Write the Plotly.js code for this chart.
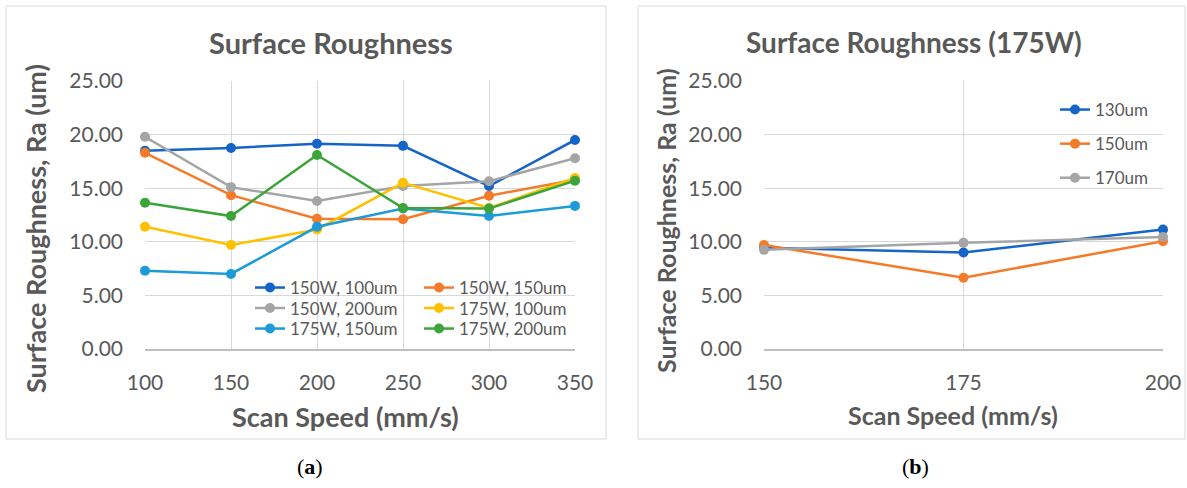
<!DOCTYPE html>
<html>
<head>
<meta charset="utf-8">
<script src="https://cdn.plot.ly/plotly-3.0.1.min.js"></script>
<style>html,body{margin:0;padding:0;background:#fff;}#chart{width:1187px;height:488px;}</style>
</head>
<body>
<div id="chart"></div>
<script>
// ---- data: panel (a) ----
const speedsA = [100, 150, 200, 250, 300, 350];
const namesA = ['150W, 100um', '150W, 150um', '150W, 200um', '175W, 100um', '175W, 150um', '175W, 200um'];
const ra150W100 = [18.5, 18.75, 19.15, 18.95, 15.2, 19.5];
const ra150W150 = [18.3, 14.35, 12.15, 12.1, 14.3, 15.8];
const ra150W200 = [19.8, 15.1, 13.8, 15.2, 15.65, 17.8];
const ra175W100 = [11.4, 9.7, 11.15, 15.5, 13.15, 15.95];
const ra175W150 = [7.3, 7.0, 11.4, 13.1, 12.4, 13.35];
const ra175W200 = [13.65, 12.4, 18.1, 13.15, 13.1, 15.7];
// ---- data: panel (b) ----
const speedsB = [150, 175, 200];
const namesB = ['130um', '150um', '170um'];
const ra130 = [9.45, 9.0, 11.15];
const ra150 = [9.7, 6.65, 10.05];
const ra170 = [9.25, 9.9, 10.45];

const W = 1187, H = 488;
const px = v => v / W;
const py = v => 1 - v / H;
const FONT = 'Lato, "Open Sans", sans-serif';
const GREY = '#595959';
const colorsA = ['#1565C8', '#F47B2A', '#A5A5A5', '#FFC000', '#1C9BD8', '#3CA53A'];
const colorsB = ['#1565C8', '#F47B2A', '#A5A5A5'];

const seriesA = [ra150W100, ra150W150, ra150W200, ra175W100, ra175W150, ra175W200];
const legendOfA = ['legend', 'legend', 'legend2', 'legend2', 'legend3', 'legend3'];
const traces = [];
seriesA.forEach((ys, i) => {
  traces.push({
    type: 'scatter', mode: 'lines+markers', x: speedsA, y: ys, name: namesA[i],
    xaxis: 'x', yaxis: 'y', legend: legendOfA[i], cliponaxis: false,
    line: {color: colorsA[i], width: 2.5}, marker: {color: colorsA[i], size: 10}
  });
});
[ra130, ra150, ra170].forEach((ys, i) => {
  traces.push({
    type: 'scatter', mode: 'lines+markers', x: speedsB, y: ys, name: namesB[i],
    xaxis: 'x2', yaxis: 'y2', legend: 'legend4', legendgroup: 'g' + i, cliponaxis: false,
    line: {color: colorsB[i], width: 2.5}, marker: {color: colorsB[i], size: 10}
  });
});

const axX = {
  showgrid: true, gridcolor: '#D9D9D9', gridwidth: 1, zeroline: false,
  showline: true, linecolor: '#BFBFBF', linewidth: 1.5, ticks: '', ticklabelstandoff: 14,
  tickfont: {family: FONT, size: 21, color: GREY}, fixedrange: true
};
const axY = {
  showgrid: true, gridcolor: '#D9D9D9', gridwidth: 1, zeroline: false, showline: false,
  range: [0, 25], dtick: 5, tick0: 0, tickformat: '.2f', ticks: '', ticklabelstandoff: 21,
  tickfont: {family: FONT, size: 21, color: GREY}, fixedrange: true
};
const legFont = {family: FONT, size: 17, color: GREY};
const legBase = {orientation: 'h', xanchor: 'left', yanchor: 'middle', bgcolor: 'rgba(0,0,0,0)',
  font: legFont, entrywidth: 124, entrywidthmode: 'pixels', itemclick: false, itemdoubleclick: false};

const layout = {
  width: W, height: H, margin: {l: 0, r: 0, t: 0, b: 0},
  paper_bgcolor: '#fff', plot_bgcolor: 'rgba(0,0,0,0)', showlegend: true,
  xaxis: Object.assign({}, axX, {domain: [px(145), px(575)], range: [100, 350], dtick: 50, tick0: 100, anchor: 'y'}),
  yaxis: Object.assign({}, axY, {domain: [py(349), py(81)], anchor: 'x'}),
  xaxis2: Object.assign({}, axX, {domain: [px(764), px(1163)], range: [150, 200], dtick: 25, tick0: 150, anchor: 'y2'}),
  yaxis2: Object.assign({}, axY, {domain: [py(349), py(81)], anchor: 'x2'}),
  legend: Object.assign({}, legBase, {x: px(250), y: py(288)}),
  legend2: Object.assign({}, legBase, {x: px(250), y: py(308.5)}),
  legend3: Object.assign({}, legBase, {x: px(250), y: py(329)}),
  legend4: {orientation: 'v', xanchor: 'left', yanchor: 'top', x: px(1055), y: py(92), bgcolor: 'rgba(0,0,0,0)',
    font: legFont, tracegroupgap: 9, itemclick: false, itemdoubleclick: false},
  shapes: [
    {type: 'rect', xref: 'paper', yref: 'paper', x0: px(6), x1: px(606), y0: py(439), y1: py(6),
     line: {color: '#D9D9D9', width: 1}, layer: 'below'},
    {type: 'rect', xref: 'paper', yref: 'paper', x0: px(638), x1: px(1185), y0: py(439), y1: py(6),
     line: {color: '#D9D9D9', width: 1}, layer: 'below'},
    {type: 'rect', xref: 'paper', yref: 'paper', x0: px(240), x1: px(573), y0: py(347), y1: py(270),
     line: {width: 0}, fillcolor: '#ffffff', layer: 'between'}
  ],
  annotations: [
    {text: '<b>Surface Roughness</b>', x: px(331), y: py(42), xref: 'paper', yref: 'paper', showarrow: false,
     xanchor: 'center', yanchor: 'middle', font: {family: FONT, size: 29, color: GREY}},
    {text: '<b>Surface Roughness (175W)</b>', x: px(914), y: py(42), xref: 'paper', yref: 'paper', showarrow: false,
     xanchor: 'center', yanchor: 'middle', font: {family: FONT, size: 28, color: GREY}},
    {text: '<b>Surface Roughness, Ra (um)</b>', x: px(36), y: py(229), xref: 'paper', yref: 'paper', showarrow: false,
     textangle: -90, xanchor: 'center', yanchor: 'middle', font: {family: FONT, size: 27, color: GREY}},
    {text: '<b>Surface Roughness, Ra (um)</b>', x: px(666), y: py(221), xref: 'paper', yref: 'paper', showarrow: false,
     textangle: -90, xanchor: 'center', yanchor: 'middle', font: {family: FONT, size: 25, color: GREY}},
    {text: '<b>Scan Speed (mm/s)</b>', x: px(345), y: py(416), xref: 'paper', yref: 'paper', showarrow: false,
     xanchor: 'center', yanchor: 'middle', font: {family: FONT, size: 27, color: GREY}},
    {text: '<b>Scan Speed (mm/s)</b>', x: px(953), y: py(415), xref: 'paper', yref: 'paper', showarrow: false,
     xanchor: 'center', yanchor: 'middle', font: {family: FONT, size: 25, color: GREY}},
    {text: '(<b>a</b>)', x: px(310), y: py(466), xref: 'paper', yref: 'paper', showarrow: false,
     xanchor: 'center', yanchor: 'middle', font: {family: '"Liberation Serif", serif', size: 22, color: '#000'}},
    {text: '(<b>b</b>)', x: px(915), y: py(466), xref: 'paper', yref: 'paper', showarrow: false,
     xanchor: 'center', yanchor: 'middle', font: {family: '"Liberation Serif", serif', size: 22, color: '#000'}}
  ]
};

Plotly.newPlot('chart', traces, layout, {staticPlot: true, displayModeBar: false});
</script>
</body>
</html>
